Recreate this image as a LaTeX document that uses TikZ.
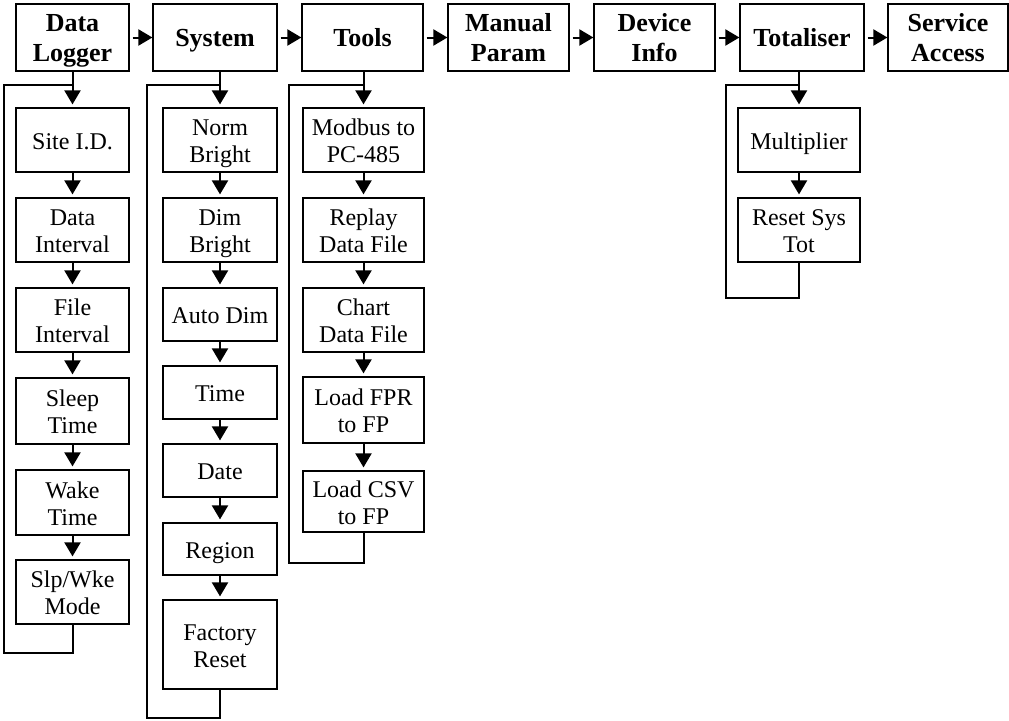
\documentclass[tikz,border=0pt]{standalone}
\usepackage{fontspec}
\setmainfont{Liberation Serif}
\usetikzlibrary{arrows.meta}
\newcommand\ctext[1]{\raisebox{-4pt}[\height][\depth]{\begin{tabular}{@{}c@{}}#1\end{tabular}}}
\newcommand\btext[1]{\raisebox{-3.3pt}[\height][\depth]{\begin{tabular}{@{}c@{}}#1\end{tabular}}}
\begin{document}
\begin{tikzpicture}[x=1pt,y=-1pt,
 topbox/.style={draw, line width=1.2pt, inner sep=0pt, minimum height=67pt, font=\fontsize{26}{30}\selectfont\bfseries},
 cbox/.style={draw, line width=1.2pt, inner sep=0pt, font=\fontsize{24}{27}\selectfont},
 arr/.style={line width=2pt, -{Triangle[length=14pt,width=16pt]}},
 harr/.style={arr, shorten <=3pt},
 varr/.style={arr, shorten >=3pt},
 loopline/.style={line width=2pt}]
\useasboundingbox (0,0) rectangle (1009,720);
% top row
\node[topbox, minimum width=113pt] (dl) at (72.5,37.5) {\btext{Data\\Logger}};
\node[topbox, minimum width=124pt] (sys) at (215,37.5) {\btext{System}};
\node[topbox, minimum width=121pt] (tools) at (362.5,37.5) {\btext{Tools}};
\node[topbox, minimum width=121pt] (man) at (508.5,37.5) {\btext{Manual\\Param}};
\node[topbox, minimum width=121pt] (dev) at (654.5,37.5) {\btext{Device\\Info}};
\node[topbox, minimum width=124pt] (tot) at (802,37.5) {\btext{Totaliser}};
\node[topbox, minimum width=120pt] (svc) at (948,37.5) {\btext{Service\\Access}};
\foreach \a/\b in {dl/sys,sys/tools,tools/man,man/dev,dev/tot,tot/svc}
  \draw[harr] (\a.east) -- (\b.west);
% Data Logger column
\begin{scope}[every node/.style={cbox, minimum width=113pt}]
\node[minimum height=64pt] (site) at (72.5,140) {\ctext{Site I.D.}};
\node[minimum height=64pt] (dint) at (72.5,230) {\ctext{Data\\Interval}};
\node[minimum height=64pt] (fint) at (72.5,320) {\ctext{File\\Interval}};
\node[minimum height=66pt] (sleep) at (72.5,411) {\ctext{Sleep\\Time}};
\node[minimum height=65pt] (wake) at (72.5,502.5) {\ctext{Wake\\Time}};
\node[minimum height=64pt] (slp) at (72.5,592) {\ctext{Slp/Wke\\Mode}};
\end{scope}
% System column
\begin{scope}[every node/.style={cbox, minimum width=114pt}]
\node[minimum height=64pt] (norm) at (220,140) {\ctext{Norm\\Bright}};
\node[minimum height=64pt] (dim) at (220,230) {\ctext{Dim\\Bright}};
\node[minimum height=53pt] (auto) at (220,314.5) {\ctext{Auto Dim}};
\node[minimum height=53pt] (time) at (220,392.5) {\ctext{Time}};
\node[minimum height=53pt] (date) at (220,470.5) {\ctext{Date}};
\node[minimum height=52pt] (region) at (220,549) {\ctext{Region}};
\node[minimum height=89pt] (fact) at (220,644.5) {\ctext{Factory\\Reset}};
\end{scope}
% Tools column
\begin{scope}[every node/.style={cbox, minimum width=121pt}]
\node[minimum height=64pt] (modbus) at (363.5,140) {\ctext{Modbus to\\PC-485}};
\node[minimum height=64pt] (replay) at (363.5,230) {\ctext{Replay\\Data File}};
\node[minimum height=64pt] (chart) at (363.5,320) {\ctext{Chart\\Data File}};
\node[minimum height=66pt] (fpr) at (363.5,410) {\ctext{Load FPR\\to FP}};
\node[minimum height=61pt] (csv) at (363.5,501.5) {\ctext{Load CSV\\to FP}};
\end{scope}
% Totaliser column
\begin{scope}[every node/.style={cbox, minimum width=122pt}]
\node[minimum height=64pt] (mult) at (799,140) {\ctext{Multiplier}};
\node[minimum height=64pt] (reset) at (799,230) {\ctext{Reset Sys\\Tot}};
\end{scope}
% vertical arrows from top row
\draw[varr] (dl.south -| site.north) -- (site.north);
\draw[varr] (sys.south -| norm.north) -- (norm.north);
\draw[varr] (tools.south -| modbus.north) -- (modbus.north);
\draw[varr] (tot.south -| mult.north) -- (mult.north);
% chains
\foreach \a/\b in {site/dint,dint/fint,fint/sleep,sleep/wake,wake/slp,
  norm/dim,dim/auto,auto/time,time/date,date/region,region/fact,
  modbus/replay,replay/chart,chart/fpr,fpr/csv,mult/reset}
  \draw[varr] (\a.south) -- (\b.north);
% loops
\coordinate (dlL) at (4,653);
\coordinate (dlJ) at (72.5,85);
\coordinate (sysL) at (147,718);
\coordinate (sysJ) at (220,85);
\coordinate (toolsL) at (289,563);
\coordinate (toolsJ) at (363.5,85);
\coordinate (totL) at (726,298);
\coordinate (totJ) at (799,85);
\draw[loopline] (slp.south) |- (dlL) |- (dlJ);
\draw[loopline] (fact.south) |- (sysL) |- (sysJ);
\draw[loopline] (csv.south) |- (toolsL) |- (toolsJ);
\draw[loopline] (reset.south) |- (totL) |- (totJ);
\end{tikzpicture}
\end{document}
